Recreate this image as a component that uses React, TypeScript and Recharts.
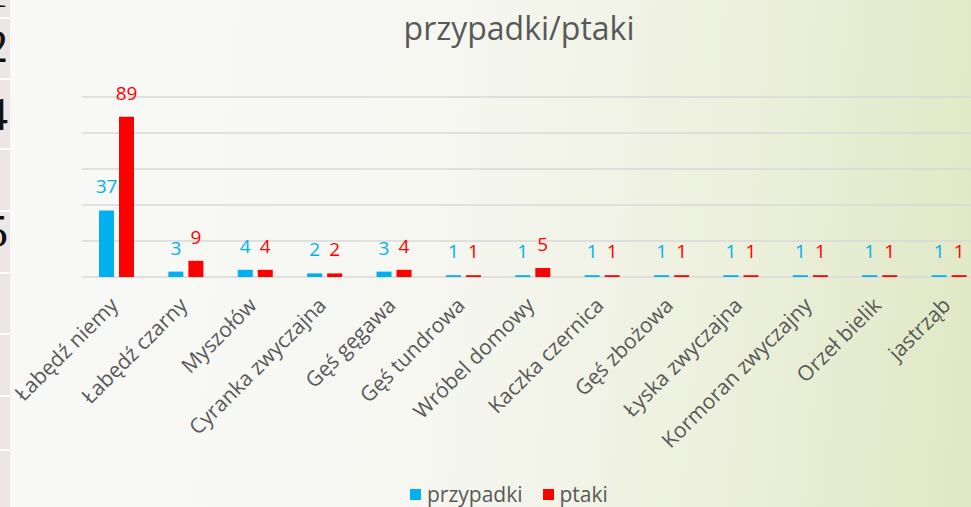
import React from "react";
import { BarChart, Bar, XAxis, YAxis, CartesianGrid, LabelList, Legend } from "recharts";

const categories = [
  "Łabędź niemy",
  "Łabędź czarny",
  "Myszołów",
  "Cyranka zwyczajna",
  "Gęś gęgawa",
  "Gęś tundrowa",
  "Wróbel domowy",
  "Kaczka czernica",
  "Gęś zbożowa",
  "Łyska zwyczajna",
  "Kormoran zwyczajny",
  "Orzeł bielik",
  "jastrząb",
];
const przypadki = [37, 3, 4, 2, 3, 1, 1, 1, 1, 1, 1, 1, 1];
const ptaki = [89, 9, 4, 2, 4, 1, 5, 1, 1, 1, 1, 1, 1];
const yTicks = [0, 20, 40, 60, 80, 100];

// cut-off table at the left edge of the screenshot
const sideDigits = [
  { text: "1", top: -31 },
  { text: "2", top: 24 },
  { text: "4", top: 92 },
  { text: "5", top: 209 },
];
const sideSeparators = [17, 78, 148, 210, 272, 333, 395, 449];

const FONT = "'Open Sans', 'DejaVu Sans', sans-serif";
const BLUE = "#00B0F0";
const RED = "#FF0000";
const TEXT = "#595959";

const data = categories.map((name, i) => ({
  name,
  przypadki: przypadki[i],
  ptaki: ptaki[i],
}));

function AngledTick({ x, y, payload }: any) {
  return (
    <g transform={`translate(${x - 3},${y + 16})`}>
      <text
        x={0}
        y={0}
        dy={8}
        textAnchor="end"
        transform="rotate(-45)"
        fill={TEXT}
        fontSize={21}
        fontFamily={FONT}
      >
        {payload.value}
      </text>
    </g>
  );
}

function LegendContent() {
  const items = [
    { label: "przypadki", color: BLUE },
    { label: "ptaki", color: RED },
  ];
  return (
    <div style={{ display: "flex", alignItems: "center", height: 26, fontFamily: FONT, fontSize: 21, color: TEXT }}>
      {items.map((it) => (
        <div key={it.label} style={{ display: "flex", alignItems: "center", marginRight: 20 }}>
          <span style={{ width: 11, height: 11, background: it.color, marginRight: 6, display: "inline-block" }} />
          <span>{it.label}</span>
        </div>
      ))}
    </div>
  );
}

export default function App() {
  return (
    <div
      style={{
        position: "fixed",
        left: 0,
        top: 0,
        width: 971,
        height: 507,
        overflow: "hidden",
        background: "linear-gradient(95deg, #F9F9F8 0%, #F6F7F1 45%, #ECF0DC 75%, #DFE8C4 100%)",
      }}
    >
      <div style={{ position: "absolute", left: 0, top: 0, width: 10, height: 507, overflow: "hidden", background: "#EEE6E6" }}>
        {sideSeparators.map((s) => (
          <div key={s} style={{ position: "absolute", left: 0, top: s, width: 10, height: 2, background: "#FFFFFF" }} />
        ))}
        {sideDigits.map((d) => (
          <div
            key={d.text}
            style={{
              position: "absolute",
              left: -40,
              width: 48,
              top: d.top,
              textAlign: "right",
              fontFamily: "'Liberation Serif', serif",
              fontSize: 46,
              lineHeight: "46px",
              color: "#111",
            }}
          >
            {d.text}
          </div>
        ))}
      </div>
      <svg style={{ position: "absolute", left: 0, top: 0 }} width={971} height={60}>
        <text x={519} y={40} textAnchor="middle" fill={TEXT} fontSize={32} fontFamily={FONT}>
          przypadki/ptaki
        </text>
      </svg>
      <div style={{ position: "absolute", left: 0, top: 0 }}>
        <BarChart
          width={990}
          height={507}
          data={data}
          margin={{ top: 97, right: 6, left: 82, bottom: 0 }}
          barSize={15}
          barGap={5}
        >
          <CartesianGrid vertical={false} stroke="#D9D9D9" strokeWidth={1.5} />
          <YAxis hide domain={[0, 100]} ticks={yTicks} />
          <XAxis
            dataKey="name"
            interval={0}
            height={204}
            tickLine={false}
            axisLine={false}
            tick={<AngledTick />}
          />
          <Legend
            verticalAlign="bottom"
            height={26}
            content={<LegendContent />}
            wrapperStyle={{ left: 410, width: 260, bottom: 0 }}
          />
          <Bar dataKey="przypadki" fill={BLUE} isAnimationActive={false}>
            <LabelList dataKey="przypadki" position="top" offset={17} fill={BLUE} fontSize={19} fontFamily={FONT} />
          </Bar>
          <Bar dataKey="ptaki" fill={RED} isAnimationActive={false}>
            <LabelList dataKey="ptaki" position="top" offset={17} fill={RED} fontSize={19} fontFamily={FONT} />
          </Bar>
        </BarChart>
      </div>
    </div>
  );
}
